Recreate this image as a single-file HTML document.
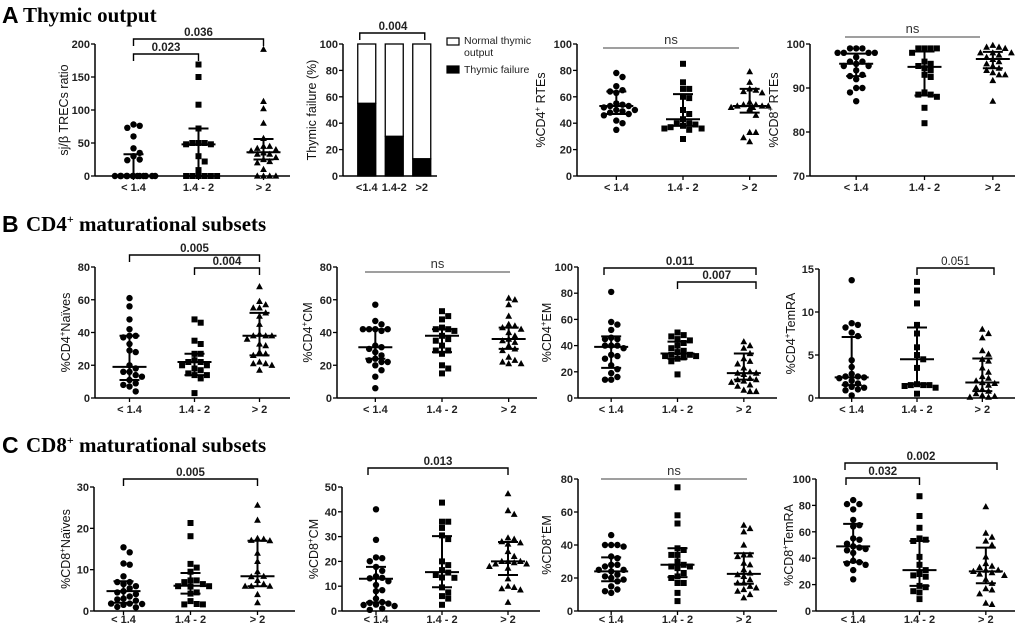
<!DOCTYPE html>
<html><head><meta charset="utf-8">
<style>
html,body{margin:0;padding:0;background:#fff;}
svg{display:block;font-family:"Liberation Sans",Arial,sans-serif;}
.tk{font-size:11px;font-weight:bold;fill:#222;}
.ttl{font-size:12.5px;fill:#111;}
</style></head>
<body>
<svg id="fig" width="1020" height="626" viewBox="0 0 1020 626">
<g>
<text x="2" y="23" font-size="23" font-weight="bold" font-family="Liberation Sans">A</text>
<text x="23" y="22" font-size="21" font-weight="bold" font-family="Liberation Serif">Thymic output</text></g>
<g>
<text x="2" y="232" font-size="23" font-weight="bold" font-family="Liberation Sans">B</text>
<text x="26" y="231" font-size="21" font-weight="bold" font-family="Liberation Serif">CD4<tspan dy="-8" font-size="12">+</tspan><tspan dy="8"> maturational subsets</tspan></text></g>
<g>
<text x="2" y="453" font-size="23" font-weight="bold" font-family="Liberation Sans">C</text>
<text x="26" y="452" font-size="21" font-weight="bold" font-family="Liberation Serif">CD8<tspan dy="-8" font-size="12">+</tspan><tspan dy="8"> maturational subsets</tspan></text></g>
</svg>
<script>
const categories = ["< 1.4","1.4 - 2","> 2"];
// A1 TRECs
const a1_g1=[78,76,73,60,42,35,30,25,24,0,0,0,0,0,0,0,0,0,0,0,0,0];
const a1_g2=[169,150,108,72,50,50,48,50,48,30,22,9,0,0,0,0,0,0];
const a1_g3=[192,113,102,80,57,45,45,42,40,38,35,33,33,28,25,22,20,10,0,0,0,0];
const a1_stats=[[0,0,33],[48,0,72],[36,25,56]];
// A2 thymic failure bars
const a2_cats=["<1.4","1.4-2",">2"];
const a2_failure=[55,30,13];
// A3
const a3_g1=[78,75,68,65,64,63,55,54,53,53,52,50,50,48,47,46,42,40,35,49];
const a3_g2=[85,71,66,66,60,59,50,47,43,40,39,38,37,36,36,35,28,40];
const a3_g3=[79,71,66,65,64,63,56,54,54,53,53,52,52,51,53,50,46,33,33,29,26];
const a3_stats=[[53,47,64],[43,38,62],[53,48,66]];
// A4
const a4_g1=[99,99,99,98,98,98,98,97,96,96,95.5,95,95,94,93,92.7,92,90,90,89,87];
const a4_g2=[99,99,99,99,98,96,95.5,95,94.5,94,93,92.5,89,88.5,88.5,88,85.5,82];
const a4_g3=[99.7,99.3,99.3,99,98,98,98,97.5,97,96.5,96,95.5,95,94.5,94,93.5,93,93,91.7,87];
const a4_stats=[[95.5,92.7,97.8],[94.8,88.3,98.3],[96.6,94.5,98.2]];
// B1
const b1_g1=[61,56,48,42,38,38,37,33,29,28,20,18,16,16,14,13,11,9,8,7,4];
const b1_g2=[48,46,35,33,27,27,23,22,22,20,20,18,17,15,14,14,12,3];
const b1_g3=[68,59,57,55,55,52,50,45,39,38,38,38,36,33,32,28,27,22,21,21,20,17,26];
const b1_stats=[[19,11,38],[22,14,27],[38,26,52]];
// B2
const b2_g1=[57,47,45,42,42,42,42,41,32,31,30,28,26,24,23,22,22,20,17,13,6];
const b2_g2=[53,50,48,43,42,42,41,38,36,35,32,29,29,27,20,18,15];
const b2_g3=[61,60,57,50,45,44,43,42,40,38,36,35,34,32,30,29,25,23,22,21,21];
const b2_stats=[[31,24,42],[38,28,42],[36,30,43]];
// B3
const b3_g1=[81,58,56,52,45,46,45,40,40,38,33,32,30,25,22,19,16,14,14,40];
const b3_g2=[50,48,47,45,44,42,40,38,36,35,33,33,32,32,31,30,28,18];
const b3_g3=[43,40,38,34,30,28,26,23,20,19,19,18,15,14,14,13,12,10,9,6,5,5];
const b3_stats=[[39,23,47],[34,30,43],[19,14,34]];
// B4
const b4_g1=[13.7,8.7,8.5,8.2,7.6,7.2,4.4,3.6,2.8,2.5,2.5,2.4,2.3,2,1.7,1.6,1.3,1.2,1,0.9,0.3];
const b4_g2=[13.5,12.5,11,8.5,7.5,5.9,5,4.5,3.5,1.6,1.5,1.5,1.5,1.4,1.2,0.5];
const b4_g3=[8,7.5,7,5.5,5.1,4.5,4.3,3.5,3,2.5,2.3,2,1.8,1.7,1.5,1.2,1,0.8,0.5,0.3,0.2,0.1,0.1];
const b4_stats=[[2.4,1.5,7.1],[4.5,1.6,8.2],[1.8,0.8,4.6]];
// C1
const c1_g1=[15.4,14.2,11.5,11.2,8.4,7,7,6.5,6,5.5,4.8,4.5,4.1,3.5,3,2.8,2.5,1.8,1.8,1.7,1.5,1,0.9];
const c1_g2=[21.3,18.1,11.4,10.5,9.5,7.4,7.4,7,6.5,6,6,5.9,4.5,4.2,2.4,1.7,1.6,1.6];
const c1_g3=[25.6,22,17.6,17.4,17.1,17,14,12,9.5,8.4,8.3,7.4,6.5,6,6,6,4,2];
const c1_stats=[[4.8,2,7.2],[6.1,4.2,9.2],[8.4,6,17]];
// C2
const c2_g1=[41,28.7,21.6,21.3,20.1,17.8,16.2,14,13.4,13.2,12,10.5,8.4,8,5,3.6,3.3,3,2.6,2.4,2,1,0.5];
const c2_g2=[43.7,36,36,33.5,30.5,29,20,18.5,16.5,15.5,14.5,13.5,13.4,9.5,7.5,6,5,2.5];
const c2_g3=[47.3,40.5,39,29.5,29,28,27.5,27,24,22,20,20,19.5,19,20,19,18,17.3,13,10,9.5,9,8.5,3.5];
const c2_stats=[[13,3.5,17.8],[15.7,9.6,30.2],[20,14.5,27.8]];
// C3
const c3_g1=[46,40,40,40,39,33,32,28,28,27,25,25,24,22,21,20,19,18,15,13,12,11];
const c3_g2=[75,58,53,38,37,34,34,30,28,27,27,26,23,21,20,17,17,11,6];
const c3_g3=[52,50,48,40,34,34,33,29,28,25,23,22,21,19,17,17,15,14,13,12,10,8];
const c3_stats=[[24,18,32.5],[28,20.5,38],[22.5,16.5,35]];
// C4
const c4_g1=[84,81,81,77,69,65,64,55,54,51,49,48,47,46,44,38,37,36,35,31,24];
const c4_g2=[87,72,63,55,54,53,41,35,31,28,27,26,19,18,15,14,9];
const c4_g3=[79,59,56,53,50,41,36,34,33,31,31,30,29,28,27,24,21,17,16,13,6,5];
const c4_stats=[[49,37,66],[31,19,53],[30,21,48]];

const NS="http://www.w3.org/2000/svg";
const svg=document.getElementById('fig');
function mk(tag,attrs,parent){const e=document.createElementNS(NS,tag);for(const k in attrs)e.setAttribute(k,attrs[k]);(parent||svg).appendChild(e);return e;}

const panels=[
 {id:'trecs',x0:95,x1:290,yt:44,yb:176,lb:14,min:0,max:200,ticks:[0,50,100,150,200],title:'sj/β TRECs ratio',tx:68,groups:[a1_g1,a1_g2,a1_g3],stats:a1_stats,off:6,
  br:[{a:0,b:2,y:39,t:'0.036',bold:1},{a:0,b:1,y:54,t:'0.023',bold:1}]},
 {id:'cd4-rtes',x0:577,x1:777,yt:44,yb:176,lb:14,min:0,max:100,ticks:[0,20,40,60,80,100],title:'%CD4|+| RTEs',tx:545,groups:[a3_g1,a3_g2,a3_g3],stats:a3_stats,off:6,ns:{a:603,b:739,y:48}},
 {id:'cd8-rtes',x0:810,x1:1015,yt:44,yb:176,lb:14,min:70,max:100,ticks:[70,80,90,100],title:'%CD8|+| RTEs',tx:778,groups:[a4_g1,a4_g2,a4_g3],stats:a4_stats,off:12,ns:{a:845,b:980,y:37}},
 {id:'cd4-naives',x0:95,x1:290,yt:267,yb:398,lb:14,min:0,max:80,ticks:[0,20,40,60,80],title:'%CD4|+|Naïves',tx:70,groups:[b1_g1,b1_g2,b1_g3],stats:b1_stats,off:2,
  br:[{a:0,b:2,y:255,t:'0.005',bold:1},{a:1,b:2,y:268,t:'0.004',bold:1}]},
 {id:'cd4-cm',x0:337,x1:537,yt:267,yb:398,lb:14,min:0,max:80,ticks:[0,20,40,60,80],title:'%CD4|+|CM',tx:312,groups:[b2_g1,b2_g2,b2_g3],stats:b2_stats,off:5,ns:{a:365,b:510,y:272}},
 {id:'cd4-em',x0:578,x1:777,yt:267,yb:398,lb:14,min:0,max:100,ticks:[0,20,40,60,80,100],title:'%CD4|+|EM',tx:551,groups:[b3_g1,b3_g2,b3_g3],stats:b3_stats,off:0,
  br:[{a:0,b:2,y:268,t:'0.011',bold:1,xa:604,xb:756},{a:1,b:2,y:282,t:'0.007',bold:1,xb:756}]},
 {id:'cd4-temra',x0:819,x1:1015,yt:269,yb:398,lb:14,min:0,max:15,ticks:[0,5,10,15],title:'%CD4|+|TemRA',tx:795,groups:[b4_g1,b4_g2,b4_g3],stats:b4_stats,off:0,
  br:[{a:1,b:2,y:268,t:'0.051',bold:0,xb:994}]},
 {id:'cd8-naives',x0:94,x1:295,yt:487,yb:611,lb:11,min:0,max:30,ticks:[0,10,20,30],title:'%CD8|+|Naïves',tx:70,groups:[c1_g1,c1_g2,c1_g3],stats:c1_stats,off:-4,
  br:[{a:0,b:2,y:479,t:'0.005',bold:1}]},
 {id:'cd8-cm',x0:342,x1:540,yt:487,yb:611,lb:11,min:0,max:50,ticks:[0,10,20,30,40,50],title:'%CD8|+|CM',tx:318,groups:[c2_g1,c2_g2,c2_g3],stats:c2_stats,off:1,
  br:[{a:0,b:2,y:468,t:'0.013',bold:1,xa:368}]},
 {id:'cd8-em',x0:578,x1:777,yt:479,yb:611,lb:11,min:0,max:80,ticks:[0,20,40,60,80],title:'%CD8|+|EM',tx:551,groups:[c3_g1,c3_g2,c3_g3],stats:c3_stats,off:0,ns:{a:601,b:747,y:479}},
 {id:'cd8-temra',x0:816,x1:1015,yt:479,yb:611,lb:11,min:0,max:100,ticks:[0,20,40,60,80,100],title:'%CD8|+|TemRA',tx:793,groups:[c4_g1,c4_g2,c4_g3],stats:c4_stats,off:4,
  br:[{a:0,b:2,y:463,t:'0.002',bold:1,xa:845,xb:997},{a:0,b:1,y:478,t:'0.032',bold:1,xa:846}]}
];

function marker(shape,x,y,g){
  let m;
  if(shape===0){m=mk('circle',{cx:x.toFixed(1),cy:y.toFixed(1),r:3.2,fill:'#000'},g);}
  else if(shape===1){m=mk('rect',{x:(x-3).toFixed(1),y:(y-3).toFixed(1),width:6,height:6,fill:'#000'},g);}
  else {m=mk('polygon',{points:`${x.toFixed(1)},${(y-3.6).toFixed(1)} ${(x-3.4).toFixed(1)},${(y+2.6).toFixed(1)} ${(x+3.4).toFixed(1)},${(y+2.6).toFixed(1)}`,fill:'#000'},g);}
  return m;
}
function ytitle(text,x,cy,g){
  const parts=text.split('|');
  const t=mk('text',{x:x,y:cy,'text-anchor':'middle',transform:`rotate(-90 ${x} ${cy})`,class:'ttl'},g);
  
  
  if(parts.length===1){t.textContent=text;}
  else{
    const a=document.createElementNS(NS,'tspan');a.textContent=parts[0];t.appendChild(a);
    const b=document.createElementNS(NS,'tspan');b.textContent=parts[1];b.setAttribute('dy','-5');b.setAttribute('font-size','8');t.appendChild(b);
    const c=document.createElementNS(NS,'tspan');c.textContent=parts[2];c.setAttribute('dy','5');t.appendChild(c);
  }
}

panels.forEach(p=>{
  const g=mk('g',{});
  
  
  const ys=v=>p.yb-(v-p.min)/(p.max-p.min)*(p.yb-p.yt);
  const xs=i=>p.x0+(p.x1-p.x0)*(i+0.5)/3+p.off;
  const ya=mk('line',{x1:p.x0,y1:p.yt,x2:p.x0,y2:p.yb,stroke:'#000','stroke-width':1.5},g);
  
  
  const xa=mk('line',{x1:p.x0,y1:p.yb,x2:p.x1,y2:p.yb,stroke:'#000','stroke-width':1.5},g);
  
  
  p.ticks.forEach(t=>{
    mk('line',{x1:p.x0-4,y1:ys(t),x2:p.x0,y2:ys(t),stroke:'#000','stroke-width':1.3},g);
    const tl=mk('text',{x:p.x0-5,y:ys(t)+4,'text-anchor':'end',class:'tk'},g);
    
    
    tl.textContent=t;
  });
  categories.forEach((c,i)=>{
    mk('line',{x1:xs(i),y1:p.yb,x2:xs(i),y2:p.yb+4,stroke:'#000','stroke-width':1.3},g);
    const cl=mk('text',{x:xs(i),y:p.yb+p.lb+1,'text-anchor':'middle',class:'tk'},g);
    
    
    cl.textContent=c;
  });
  ytitle(p.title,p.tx,(p.yt+p.yb)/2,g);
  p.groups.forEach((vals,i)=>{
    const cx=xs(i);const placed=[];const d=6.2;const maxOff=24;
    const sorted=vals.slice().sort((a,b)=>b-a);
    sorted.forEach(v=>{
      const y=ys(v);let x=cx;let found=false;
      for(let k=0;k<30;k++){
        const off=(k===0?0:(k%2?1:-1)*Math.ceil(k/2)*d);
        if(Math.abs(off)>maxOff)break;
        const cand=cx+off;
        if(!placed.some(q=>Math.hypot(q[0]-cand,q[1]-y)<d-0.3)){x=cand;found=true;break;}
      }
      if(!found){
        const n=placed.filter(q=>Math.abs(q[1]-y)<1).length;
        x=cx+((n%2)?1:-1)*((n*3.1)%maxOff);
      }
      placed.push([x,y]);
      const m=marker(i,x,y,g);
      
      
    });
    const s=p.stats[i];
    const med=mk('line',{x1:cx-17,y1:ys(s[0]),x2:cx+17,y2:ys(s[0]),stroke:'#000','stroke-width':2},g);
    
    
    const iq=mk('line',{x1:cx,y1:ys(s[1]),x2:cx,y2:ys(s[2]),stroke:'#000','stroke-width':2},g);
    
    
    [s[1],s[2]].forEach(v=>{
      const cap=mk('line',{x1:cx-10,y1:ys(v),x2:cx+10,y2:ys(v),stroke:'#000','stroke-width':2},g);
      
      
    });
  });
  if(p.br)p.br.forEach(b=>{
    const xa_=b.xa||xs(b.a),xb_=b.xb||xs(b.b);
    const br=mk('path',{d:`M${xa_},${b.y+7}V${b.y}H${xb_}V${b.y+7}`,fill:'none',stroke:'#000','stroke-width':1.4},g);
    
    
    const bt=mk('text',{x:(xa_+xb_)/2,y:b.y-3,'text-anchor':'middle','font-size':11.5,'font-weight':b.bold?'bold':'normal',fill:'#222'},g);
    
    
    bt.textContent=b.t;
  });
  if(p.ns){
    const nl=mk('line',{x1:p.ns.a,y1:p.ns.y,x2:p.ns.b,y2:p.ns.y,stroke:'#666','stroke-width':1.3},g);
    
    
    const nt=mk('text',{x:(p.ns.a+p.ns.b)/2,y:p.ns.y-4,'text-anchor':'middle','font-size':13,fill:'#333'},g);
    
    
    nt.textContent='ns';
  }
});

(function(){
  const g=mk('g',{});
  
  
  const x0=343,x1=437,yt=44,yb=176;
  const ys=v=>yb-v/100*(yb-yt);
  const xs=i=>x0+10+(i+0.5)*27.5;
  a2_cats.forEach((c,i)=>{
    const cx=xs(i),w=18;
    const wb=mk('rect',{x:cx-w/2,y:ys(100),width:w,height:ys(a2_failure[i])-ys(100),fill:'#fff',stroke:'#000','stroke-width':1.3},g);
    
    
    const bb=mk('rect',{x:cx-w/2,y:ys(a2_failure[i]),width:w,height:yb-ys(a2_failure[i]),fill:'#000',stroke:'#000','stroke-width':1.3},g);
    
    
    const cl=mk('text',{x:cx,y:yb+15,'text-anchor':'middle',class:'tk'},g);
    
    
    cl.textContent=c;
  });
  const ya=mk('line',{x1:x0,y1:yt,x2:x0,y2:yb,stroke:'#000','stroke-width':1.5},g);
  
  
  const xa=mk('line',{x1:x0,y1:yb,x2:x1,y2:yb,stroke:'#000','stroke-width':1.5},g);
  
  
  [0,20,40,60,80,100].forEach(t=>{
    mk('line',{x1:x0-4,y1:ys(t),x2:x0,y2:ys(t),stroke:'#000','stroke-width':1.3},g);
    const tl=mk('text',{x:x0-5,y:ys(t)+4,'text-anchor':'end',class:'tk'},g);
    
    
    tl.textContent=t;
  });
  ytitle('Thymic failure (%)',316,110,g);
  const br=mk('path',{d:`M${xs(0)-7},${40}V33H${xs(2)+3}V40`,fill:'none',stroke:'#000','stroke-width':1.4},g);
  
  
  const bt=mk('text',{x:393,y:30,'text-anchor':'middle','font-size':11.5,'font-weight':'bold',fill:'#222'},g);
  
  
  bt.textContent='0.004';
  const l1=mk('rect',{x:447,y:38,width:12,height:7,fill:'#fff',stroke:'#000','stroke-width':1.2},g);
  
  
  const t1=mk('text',{x:464,y:44,'font-size':10.5,fill:'#222'},g);
  
  
  t1.textContent='Normal thymic';
  const t1b=mk('text',{x:464,y:56,'font-size':10.5,fill:'#222'},g);
  
  
  t1b.textContent='output';
  const l2=mk('rect',{x:447,y:66,width:12,height:7,fill:'#000',stroke:'#000','stroke-width':1.2},g);
  
  
  const t2=mk('text',{x:464,y:73,'font-size':10.5,fill:'#222'},g);
  
  
  t2.textContent='Thymic failure';
})();
</script>
</body></html>
